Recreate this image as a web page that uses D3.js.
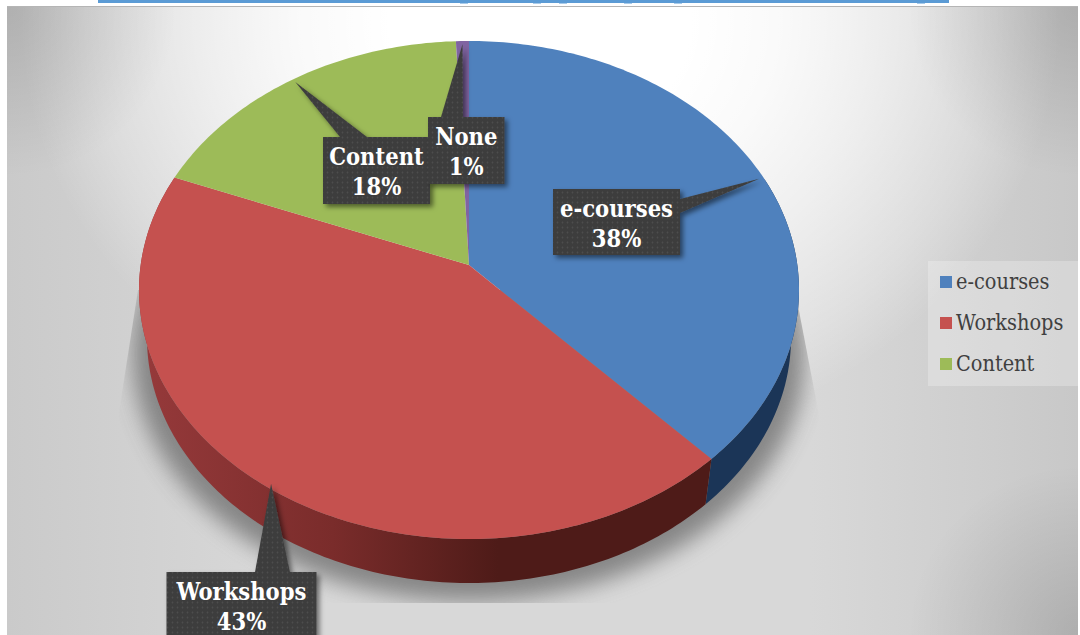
<!DOCTYPE html>
<html>
<head>
<meta charset="utf-8">
<script src="https://cdn.jsdelivr.net/npm/d3@7"></script>
<style>
  html, body { margin: 0; padding: 0; background: #fff; }
  svg { display: block; }
  text { font-family: "DejaVu Serif Condensed", "DejaVu Serif", serif; }
</style>
</head>
<body>
<svg id="chart" width="1080" height="635"></svg>
<script>
// valores
const categories = ["e-courses", "Workshops", "Content", "None"];
const values = [38, 43, 18.3, 0.7];
const percentLabels = ["38%", "43%", "18%", "1%"];
const legendItems = ["e-courses", "Workshops", "Content"];

const colors = ["#4f81bd", "#c5514f", "#9dbb58", "#8064a2"];

var svg = d3.select("#chart"),
    width = +svg.attr("width"),
    height = +svg.attr("height");

var defs = svg.append("defs");

// fondo
var bgX = defs.append("linearGradient").attr("id", "bgX");
[[0, "#cacaca"], [0.25, "#d8d8d8"], [0.75, "#d8d8d8"], [1, "#c8c8c8"]].forEach(function(s) {
    bgX.append("stop").attr("offset", s[0]).attr("stop-color", s[1]);
});
var bgGlow = defs.append("radialGradient").attr("id", "bgGlow")
    .attr("gradientUnits", "userSpaceOnUse")
    .attr("cx", 0).attr("cy", 0).attr("r", 1)
    .attr("gradientTransform", "translate(540,20) scale(520,440)");
[[0, 1], [0.29, 1], [0.46, 0.87], [0.65, 0.6], [0.87, 0.25], [1, 0]].forEach(function(s) {
    bgGlow.append("stop").attr("offset", s[0]).attr("stop-color", "#fff").attr("stop-opacity", s[1]);
});
// esquinas mas oscuras
var corner = defs.append("radialGradient").attr("id", "corner");
corner.append("stop").attr("offset", 0).attr("stop-color", "#000").attr("stop-opacity", 0.13);
corner.append("stop").attr("offset", 1).attr("stop-color", "#000").attr("stop-opacity", 0);

var blur = defs.append("filter").attr("id", "shadowBlur")
    .attr("x", "-10%").attr("y", "-10%").attr("width", "120%").attr("height", "120%");
blur.append("feGaussianBlur").attr("stdDeviation", 11);

var boxShadow = defs.append("filter").attr("id", "boxShadow")
    .attr("x", "-15%").attr("y", "-15%").attr("width", "130%").attr("height", "130%");
boxShadow.append("feDropShadow").attr("dx", 3).attr("dy", 3).attr("stdDeviation", 2.5)
    .attr("flood-color", "#000").attr("flood-opacity", 0.5);

var dots = defs.append("pattern").attr("id", "dots")
    .attr("width", 5).attr("height", 5).attr("patternUnits", "userSpaceOnUse");
dots.append("rect").attr("width", 5).attr("height", 5).attr("fill", "#3d3d3d");
dots.append("circle").attr("cx", 2.5).attr("cy", 2.5).attr("r", 0.9).attr("fill", "#4d4d4d");

var redSide = defs.append("linearGradient").attr("id", "redSide")
    .attr("gradientUnits", "userSpaceOnUse")
    .attr("x1", 147).attr("x2", 560).attr("y1", 0).attr("y2", 0);
[[0, "#95393a"], [0.45, "#7a2c2b"], [0.85, "#4e1b18"], [1, "#4e1b18"]].forEach(function(s) {
    redSide.append("stop").attr("offset", s[0]).attr("stop-color", s[1]);
});

defs.append("clipPath").attr("id", "shadowClip").append("polygon")
    .attr("points", "138,290 117,425 117,603 822,603 820,420 795,290");
defs.append("clipPath").attr("id", "plotClip").append("rect")
    .attr("x", 7).attr("y", 7).attr("width", 1071).attr("height", height - 7);

var bg = svg.append("g").attr("clip-path", "url(#plotClip)");
bg.append("rect").attr("x", 7).attr("y", 7).attr("width", 1071).attr("height", height - 7).attr("fill", "url(#bgX)");
bg.append("rect").attr("x", 7).attr("y", 7).attr("width", 1071).attr("height", height - 7).attr("fill", "url(#bgGlow)");
[[7, 7], [1078, 7], [1078, 635]].forEach(function(c) {
    bg.append("circle").attr("cx", c[0]).attr("cy", c[1]).attr("r", 170).attr("fill", "url(#corner)");
});

// banda superior
svg.append("rect").attr("x", 98).attr("y", 0).attr("width", 851).attr("height", 3).attr("fill", "#5b9bd5");
svg.append("rect").attr("x", 7).attr("y", 6).attr("width", 1071).attr("height", 1).attr("fill", "#b5b5b5");
// restos de las letras recortadas del titulo
[464, 537, 563, 628, 678, 921].forEach(function(x) {
    svg.append("rect").attr("x", x - 4).attr("y", 3).attr("width", 8).attr("height", 1).attr("fill", "#a9cbea");
});

// pastel en perspectiva: el centro del circulo cae por encima del centro de la elipse
const top3d = { cx: 469, cy: 290, rx: 330, ry: 249 };
const bottom3d = { cx: 469, cy: 338, rx: 322, ry: 245 };
const centerShift = -0.1;

function project(angle, radius, e) {
    var u = radius * Math.sin(angle),
        v = -radius * Math.cos(angle),
        w = 1 + v * centerShift;
    return [
        e.cx + e.rx * u * Math.sqrt(1 - centerShift * centerShift) / w,
        e.cy + e.ry * (v + centerShift) / w
    ];
}

function rim(a0, a1, e) {
    var n = Math.max(2, Math.ceil((a1 - a0) * 60));
    return d3.range(n + 1).map(function(i) {
        return project(a0 + (a1 - a0) * i / n, 1, e);
    });
}

var line = d3.line();
var data = categories.map(function(c, i) { return { name: c, value: values[i], pct: percentLabels[i], color: colors[i] }; });
var slices = d3.pie().sort(null).value(function(d) { return d.value; })(data);

// sombra proyectada
svg.append("g").attr("clip-path", "url(#shadowClip)")
    .append("ellipse")
    .attr("cx", 469).attr("cy", 354).attr("rx", 336).attr("ry", 247)
    .attr("fill", "#777").attr("opacity", 0.85)
    .attr("filter", "url(#shadowBlur)");

// pared lateral
svg.append("path")
    .attr("d", line(rim(slices[0].startAngle + 1.2, slices[0].endAngle, top3d)
        .concat(rim(slices[0].startAngle + 1.2, slices[0].endAngle, bottom3d).reverse())) + "Z")
    .attr("fill", "#1b3557");
svg.append("path")
    .attr("d", line(rim(slices[1].startAngle, slices[1].endAngle, top3d)
        .concat(rim(slices[1].startAngle, slices[1].endAngle, bottom3d).reverse())) + "Z")
    .attr("fill", "url(#redSide)");

// cara superior
svg.append("g").selectAll("path")
    .data(slices)
    .enter().append("path")
    .attr("d", function(d) {
        return line([project(0, 0, top3d)].concat(rim(d.startAngle, d.endAngle, top3d))) + "Z";
    })
    .attr("fill", function(d) { return d.data.color; });

// etiquetas
const labelBoxes = {
    "e-courses": { x: 553, y: 189, w: 127, h: 66, base: [[680, 199], [680, 213]] },
    "Workshops": { x: 166.5, y: 572, w: 150, h: 67, base: [[255, 572], [290, 572]] },
    "Content": { x: 323, y: 137, w: 107, h: 67, base: [[340, 137], [367, 137]] },
    "None": { x: 428, y: 117, w: 76.5, h: 67, base: [[441, 117], [463, 117]] }
};

slices.forEach(function(s) {
    var box = labelBoxes[s.data.name],
        tip = project((s.startAngle + s.endAngle) / 2, 0.985, top3d);
    var g = svg.append("g").attr("filter", "url(#boxShadow)");
    g.append("path")
        .attr("d", line([tip, box.base[0], box.base[1]]) + "Z")
        .attr("fill", "url(#dots)");
    g.append("rect")
        .attr("x", box.x).attr("y", box.y).attr("width", box.w).attr("height", box.h)
        .attr("fill", "url(#dots)");
    var t = svg.append("text")
        .attr("text-anchor", "middle")
        .attr("fill", "#fff")
        .attr("font-weight", "bold")
        .attr("font-size", 23.5);
    t.append("tspan").attr("x", box.x + box.w / 2).attr("y", box.y + 28).text(s.data.name);
    t.append("tspan").attr("x", box.x + box.w / 2).attr("y", box.y + 58).text(s.data.pct);
});

// leyenda
var legend = svg.append("g");
legend.append("rect")
    .attr("x", 928).attr("y", 261).attr("width", 150).attr("height", 125)
    .attr("fill", "#fff").attr("opacity", 0.25);

var legendY = d3.scalePoint().domain(legendItems).range([282, 364]);
var legendRow = legend.selectAll("g.item")
    .data(legendItems)
    .enter().append("g")
    .attr("class", "item")
    .attr("transform", function(d) { return "translate(940," + legendY(d) + ")"; });
legendRow.append("rect")
    .attr("x", 0).attr("y", -6).attr("width", 12).attr("height", 12)
    .attr("fill", function(d) { return colors[categories.indexOf(d)]; });
legendRow.append("text")
    .attr("x", 16).attr("y", 7)
    .attr("font-size", 21.5)
    .attr("fill", "#404040")
    .text(function(d) { return d; });
</script>
</body>
</html>
